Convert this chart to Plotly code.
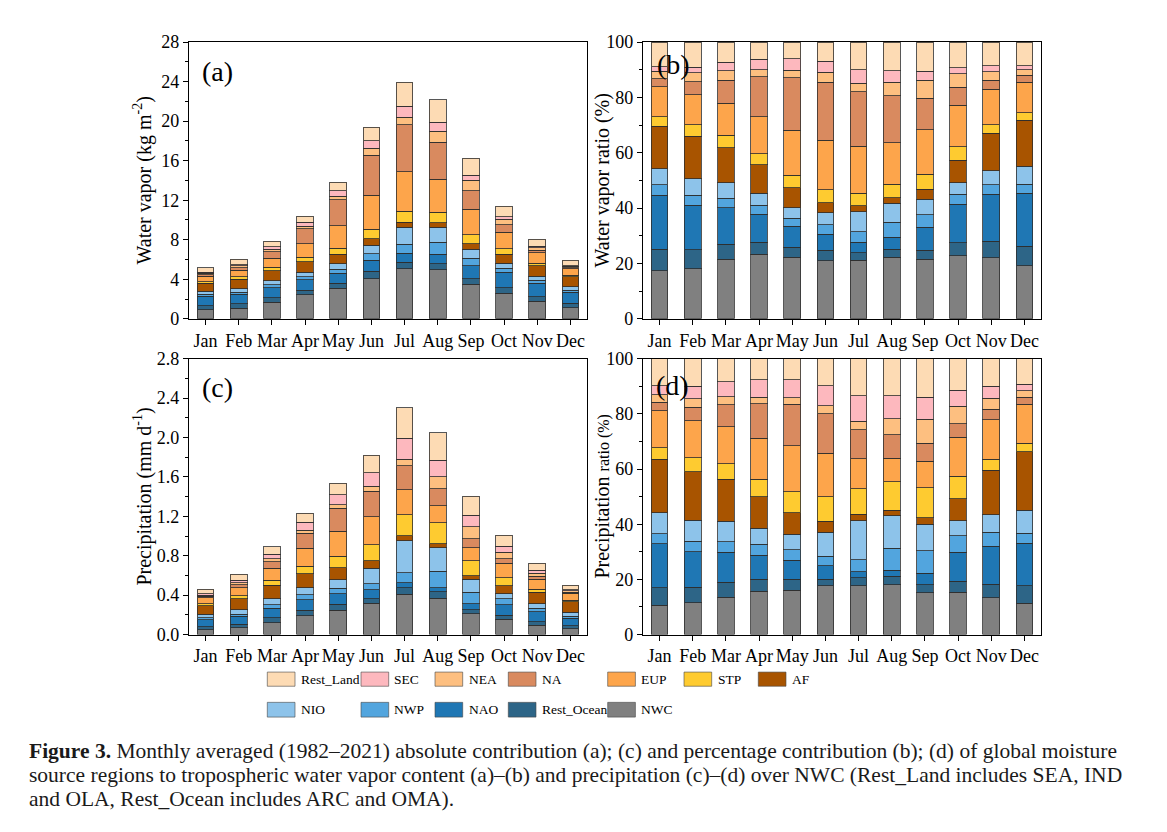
import plotly.graph_objects as go

W, H = 1167, 832

MONTHS = ["Jan", "Feb", "Mar", "Apr", "May", "Jun", "Jul", "Aug", "Sep", "Oct", "Nov", "Dec"]

# stacking order, bottom to top
SOURCES = ["NWC", "Rest_Ocean", "NAO", "NWP", "NIO", "AF", "STP", "EUP", "NA", "NEA", "SEC", "Rest_Land"]

COLORS = {
    "Rest_Land": "#FDDBB4",
    "SEC": "#FDB8BE",
    "NEA": "#FDBF80",
    "NA": "#D98A5F",
    "EUP": "#FDA54B",
    "STP": "#FECB30",
    "AF": "#A85400",
    "NIO": "#8DC3EA",
    "NWP": "#52A5DE",
    "NAO": "#1F77B4",
    "Rest_Ocean": "#2D6587",
    "NWC": "#808080",
}

# (a) water vapor contribution, kg m-2
WV_NWC = [0.89, 1.09, 1.69, 2.43, 3.08, 4.05, 5.05, 4.95, 3.51, 2.60, 1.77, 1.13]
WV_REST_OCEAN = [0.41, 0.42, 0.43, 0.45, 0.50, 0.76, 0.65, 0.64, 0.52, 0.52, 0.48, 0.42]
WV_NAO = [1.00, 0.97, 1.03, 1.05, 1.04, 1.10, 0.93, 0.95, 1.33, 1.59, 1.37, 1.13]
WV_NWP = [0.20, 0.22, 0.27, 0.34, 0.41, 0.66, 0.91, 1.20, 0.75, 0.41, 0.27, 0.19]
WV_NIO = [0.30, 0.36, 0.45, 0.45, 0.52, 0.87, 1.72, 1.53, 0.91, 0.48, 0.41, 0.38]
WV_AF = [0.78, 0.92, 1.00, 1.06, 0.98, 0.68, 0.50, 0.44, 0.58, 0.92, 1.09, 0.98]
WV_STP = [0.19, 0.25, 0.35, 0.43, 0.63, 0.93, 1.10, 1.06, 0.89, 0.56, 0.25, 0.16]
WV_EUP = [0.55, 0.66, 0.91, 1.38, 2.24, 3.45, 4.04, 3.35, 2.61, 1.70, 1.03, 0.65]
WV_NA = [0.15, 0.28, 0.65, 1.51, 2.64, 4.07, 4.74, 3.75, 1.84, 0.74, 0.26, 0.15]
WV_NEA = [0.14, 0.20, 0.27, 0.26, 0.36, 0.70, 0.74, 1.09, 1.06, 0.57, 0.24, 0.12]
WV_SEC = [0.09, 0.12, 0.25, 0.39, 0.57, 0.76, 1.15, 0.93, 0.52, 0.25, 0.18, 0.08]
WV_REST_LAND = [0.46, 0.54, 0.57, 0.64, 0.84, 1.36, 2.39, 2.28, 1.72, 1.05, 0.68, 0.51]

# (b) water vapor ratio, %
WVR_NWC = [17.3, 18.0, 21.5, 23.4, 22.3, 20.9, 21.1, 22.3, 21.6, 22.8, 22.0, 19.1]
WVR_REST_OCEAN = [7.9, 7.0, 5.5, 4.3, 3.6, 3.9, 2.7, 2.9, 3.2, 4.6, 6.0, 7.2]
WVR_NAO = [19.5, 16.1, 13.1, 10.1, 7.5, 5.7, 3.9, 4.3, 8.2, 14.0, 17.0, 19.1]
WVR_NWP = [3.8, 3.6, 3.4, 3.3, 3.0, 3.4, 3.8, 5.4, 4.6, 3.6, 3.4, 3.3]
WVR_NIO = [5.8, 6.0, 5.7, 4.3, 3.8, 4.5, 7.2, 6.9, 5.6, 4.2, 5.1, 6.4]
WVR_AF = [15.2, 15.2, 12.7, 10.2, 7.1, 3.5, 2.1, 2.0, 3.6, 8.1, 13.6, 16.6]
WVR_STP = [3.6, 4.2, 4.4, 4.1, 4.6, 4.8, 4.6, 4.8, 5.5, 4.9, 3.1, 2.7]
WVR_EUP = [10.7, 10.9, 11.6, 13.3, 16.2, 17.8, 16.9, 15.1, 16.1, 14.9, 12.8, 11.1]
WVR_NA = [2.9, 4.7, 8.3, 14.5, 19.1, 21.0, 19.8, 16.9, 11.3, 6.5, 3.3, 2.5]
WVR_NEA = [2.7, 3.3, 3.4, 2.5, 2.6, 3.6, 3.1, 4.9, 6.5, 5.0, 3.0, 2.0]
WVR_SEC = [1.7, 2.0, 3.2, 3.8, 4.1, 3.9, 4.8, 4.2, 3.2, 2.2, 2.2, 1.4]
WVR_REST_LAND = [8.9, 9.0, 7.2, 6.2, 6.1, 7.0, 10.0, 10.3, 10.6, 9.2, 8.5, 8.6]

# (c) precipitation contribution, mm d-1
PR_NWC = [0.049, 0.071, 0.121, 0.193, 0.246, 0.320, 0.408, 0.368, 0.212, 0.155, 0.096, 0.057]
PR_REST_OCEAN = [0.029, 0.034, 0.047, 0.053, 0.061, 0.045, 0.065, 0.065, 0.042, 0.040, 0.036, 0.031]
PR_NAO = [0.074, 0.079, 0.098, 0.108, 0.107, 0.087, 0.053, 0.043, 0.059, 0.106, 0.099, 0.078]
PR_NWP = [0.017, 0.024, 0.034, 0.048, 0.058, 0.064, 0.101, 0.164, 0.114, 0.060, 0.037, 0.018]
PR_NIO = [0.035, 0.046, 0.065, 0.073, 0.086, 0.156, 0.323, 0.239, 0.133, 0.055, 0.046, 0.042]
PR_AF = [0.089, 0.108, 0.136, 0.140, 0.120, 0.075, 0.055, 0.043, 0.035, 0.080, 0.116, 0.106]
PR_STP = [0.019, 0.031, 0.051, 0.078, 0.117, 0.162, 0.212, 0.211, 0.153, 0.082, 0.029, 0.015]
PR_EUP = [0.062, 0.082, 0.119, 0.182, 0.255, 0.285, 0.251, 0.174, 0.135, 0.144, 0.104, 0.071]
PR_NA = [0.014, 0.030, 0.070, 0.155, 0.230, 0.262, 0.244, 0.174, 0.090, 0.048, 0.028, 0.013]
PR_NEA = [0.013, 0.019, 0.027, 0.030, 0.037, 0.051, 0.069, 0.119, 0.122, 0.064, 0.030, 0.012]
PR_SEC = [0.015, 0.028, 0.048, 0.078, 0.101, 0.133, 0.212, 0.170, 0.114, 0.060, 0.032, 0.012]
PR_REST_LAND = [0.045, 0.061, 0.074, 0.094, 0.117, 0.178, 0.311, 0.276, 0.195, 0.115, 0.072, 0.047]

# (d) precipitation ratio, %
PRR_NWC = [10.6, 11.6, 13.6, 15.7, 16.0, 17.6, 17.7, 18.0, 15.1, 15.4, 13.3, 11.4]
PRR_REST_OCEAN = [6.3, 5.5, 5.3, 4.3, 4.0, 2.5, 2.8, 3.2, 3.0, 4.0, 5.0, 6.2]
PRR_NAO = [16.0, 12.9, 11.0, 8.8, 7.0, 4.8, 2.3, 2.1, 4.2, 10.5, 13.7, 15.5]
PRR_NWP = [3.7, 3.9, 3.8, 3.9, 3.8, 3.5, 4.4, 8.0, 8.1, 5.9, 5.1, 3.6]
PRR_NIO = [7.6, 7.5, 7.3, 5.9, 5.6, 8.6, 14.0, 11.7, 9.5, 5.5, 6.4, 8.4]
PRR_AF = [19.3, 17.6, 15.3, 11.4, 7.8, 4.1, 2.4, 2.1, 2.5, 7.9, 16.0, 21.2]
PRR_STP = [4.2, 5.1, 5.7, 6.3, 7.6, 8.9, 9.2, 10.3, 10.9, 8.1, 4.0, 3.0]
PRR_EUP = [13.5, 13.4, 13.4, 14.8, 16.6, 15.7, 10.9, 8.5, 9.6, 14.3, 14.3, 14.1]
PRR_NA = [3.0, 4.9, 7.9, 12.6, 15.0, 14.4, 10.6, 8.5, 6.4, 4.8, 3.8, 2.6]
PRR_NEA = [2.8, 3.1, 3.0, 2.4, 2.4, 2.8, 3.0, 5.8, 8.7, 6.3, 4.1, 2.4]
PRR_SEC = [3.2, 4.6, 5.4, 6.3, 6.6, 7.3, 9.2, 8.3, 8.1, 5.9, 4.4, 2.3]
PRR_REST_LAND = [9.8, 9.9, 8.3, 7.6, 7.6, 9.8, 13.5, 13.5, 13.9, 11.4, 9.9, 9.3]

PANEL_DATA = {
    ("x", "y"): [WV_NWC, WV_REST_OCEAN, WV_NAO, WV_NWP, WV_NIO, WV_AF, WV_STP,
                 WV_EUP, WV_NA, WV_NEA, WV_SEC, WV_REST_LAND],
    ("x2", "y2"): [WVR_NWC, WVR_REST_OCEAN, WVR_NAO, WVR_NWP, WVR_NIO, WVR_AF, WVR_STP,
                   WVR_EUP, WVR_NA, WVR_NEA, WVR_SEC, WVR_REST_LAND],
    ("x3", "y3"): [PR_NWC, PR_REST_OCEAN, PR_NAO, PR_NWP, PR_NIO, PR_AF, PR_STP,
                   PR_EUP, PR_NA, PR_NEA, PR_SEC, PR_REST_LAND],
    ("x4", "y4"): [PRR_NWC, PRR_REST_OCEAN, PRR_NAO, PRR_NWP, PRR_NIO, PRR_AF, PRR_STP,
                   PRR_EUP, PRR_NA, PRR_NEA, PRR_SEC, PRR_REST_LAND],
}

SERIF = "Liberation Serif"
EDGE = "rgba(45,45,45,0.8)"


def px(x):
    return x / W


def py(y):
    return 1 - y / H


fig = go.Figure()

for (xa, ya), series in PANEL_DATA.items():
    for src, vals in zip(SOURCES, series):
        fig.add_trace(go.Bar(
            x=MONTHS, y=vals, name=src, xaxis=xa, yaxis=ya, width=0.5,
            marker=dict(color=COLORS[src], line=dict(color=EDGE, width=1)),
            showlegend=False,
        ))

TICKFONT = dict(family=SERIF, size=18, color="black")

LEFT_DOM = [px(189), px(587)]
RIGHT_DOM = [px(643), px(1041)]
TOP_DOM = [py(316.4), py(32.9)]
BOT_DOM = [py(639.9), py(357.3)]


def xaxis(domain, anchor):
    return dict(domain=domain, anchor=anchor, type="category", range=[-0.5, 11.5],
                showline=True, linecolor="black", linewidth=1.3, mirror=True,
                ticks="outside", ticklen=5, tickwidth=1.2, tickcolor="black",
                showgrid=False, zeroline=False, tickfont=TICKFONT, fixedrange=True)


def yaxis(domain, anchor, top, dtick, minor, fmt):
    return dict(domain=domain, anchor=anchor, range=[0, top], dtick=dtick, tick0=0,
                tickformat=fmt, showline=True, linecolor="black", linewidth=1.3,
                mirror=True, ticks="outside", ticklen=5, tickwidth=1.2,
                tickcolor="black", showgrid=False, zeroline=False, tickfont=TICKFONT,
                minor=dict(dtick=minor, tick0=0, ticks="outside", ticklen=3,
                           tickwidth=1, tickcolor="black", showgrid=False),
                fixedrange=True)


annotations = []

# axis titles
for x, y, text in [
    (143, 174.7, "Water vapor (kg m<sup>-2</sup>)"),
    (603, 174.7, "Water vapor ratio (%)"),
    (143, 498.6, "Precipitation (mm d<sup>-1</sup>)"),
    (603, 498.6, "Precipitation <span style='font-size:16px'>ratio (%)</span>"),
]:
    annotations.append(dict(x=px(x), y=py(y), xref="paper", yref="paper", text=text,
                            textangle=-90, showarrow=False, xanchor="center",
                            yanchor="middle", font=dict(family=SERIF, size=20, color="black")))

# panel letters
for x, y, text in [(200, 62.8, "(a)"), (655, 55.7, "(b)"), (200, 386.6, "(c)"), (654, 384.6, "(d)")]:
    annotations.append(dict(x=px(x), y=py(y), xref="paper", yref="paper", text=text,
                            showarrow=False, xanchor="left", yanchor="middle",
                            font=dict(family=SERIF, size=28, color="black")))

# legend laid out as a two-row grid
LEGEND_COLS = [267.3, 361, 435, 508.3, 607.7, 684, 758.3]
LEGEND_ROWS = [(678.4, 692.9), (709.4, 724.5)]
LEGEND_ORDER = [["Rest_Land", "SEC", "NEA", "NA", "EUP", "STP", "AF"],
                ["NIO", "NWP", "NAO", "Rest_Ocean", "NWC"]]

shapes = []
for (y0, y1), row in zip(LEGEND_ROWS, LEGEND_ORDER):
    for x0, src in zip(LEGEND_COLS, row):
        shapes.append(dict(type="rect", xref="paper", yref="paper",
                           x0=px(x0), x1=px(x0 + 27.7), y0=py(y1), y1=py(y0),
                           fillcolor=COLORS[src], line=dict(color="rgba(70,70,70,0.6)", width=1)))
        annotations.append(dict(x=px(x0 + 31.5), y=py((y0 + y1) / 2), xref="paper",
                                yref="paper", text=src, showarrow=False, xanchor="left",
                                yanchor="middle",
                                font=dict(family=SERIF, size=13.5, color="black")))

# caption
CAPTION = [
    "<b>Figure 3.</b> Monthly averaged (1982–2021) absolute contribution (a); (c) and "
    "percentage contribution (b); (d) of global moisture",
    "source regions to tropospheric water vapor content (a)–(b) and precipitation (c)–(d) "
    "over NWC (Rest_Land includes SEA, IND",
    "and OLA, Rest_Ocean includes ARC and OMA).",
]
for y, line in zip([759.5, 784, 808.5], CAPTION):
    annotations.append(dict(x=px(27), y=py(y), xref="paper", yref="paper",
                            text=line, showarrow=False, xanchor="left", yanchor="middle",
                            font=dict(family=SERIF, size=21.5, color="#1a1a1a")))

fig.update_layout(
    width=W, height=H, margin=dict(l=0, r=0, t=0, b=0),
    paper_bgcolor="white", plot_bgcolor="white",
    barmode="stack", bargap=0.5,
    xaxis=xaxis(LEFT_DOM, "y"),
    yaxis=yaxis(TOP_DOM, "x", 28, 4, 2, "d"),
    xaxis2=xaxis(RIGHT_DOM, "y2"),
    yaxis2=yaxis(TOP_DOM, "x2", 100, 20, 10, "d"),
    xaxis3=xaxis(LEFT_DOM, "y3"),
    yaxis3=yaxis(BOT_DOM, "x3", 2.8, 0.4, 0.2, ".1f"),
    xaxis4=xaxis(RIGHT_DOM, "y4"),
    yaxis4=yaxis(BOT_DOM, "x4", 100, 20, 10, "d"),
    annotations=annotations,
    shapes=shapes,
    showlegend=False,
)

fig.write_html("out.html")
